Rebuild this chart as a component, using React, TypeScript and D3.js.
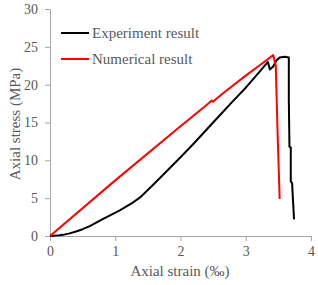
import React, { useEffect, useRef } from "react";
import * as d3 from "d3";

// strain (‰), stress (MPa)
const experimentStrain = [0, 0.1, 0.2, 0.3, 0.4, 0.5, 0.61, 0.8, 1.07, 1.25, 1.38, 1.55, 1.7, 2.0, 2.2, 2.5, 2.8, 3.0, 3.2, 3.34, 3.37, 3.42, 3.47, 3.52, 3.6, 3.66, 3.66, 3.67, 3.69, 3.69, 3.71, 3.74];
const experimentStress = [0, 0.05, 0.15, 0.35, 0.6, 0.9, 1.3, 2.2, 3.4, 4.3, 5.1, 6.5, 7.8, 10.4, 12.2, 15.0, 17.8, 19.6, 21.6, 23.0, 22.0, 22.4, 23.2, 23.6, 23.7, 23.6, 18.0, 11.8, 11.7, 7.2, 7.0, 2.2];

const numericalStrain = [0, 1, 2, 2.4, 2.48, 2.5, 2.55, 2.7, 3.0, 3.25, 3.42, 3.46, 3.49, 3.52];
const numericalStress = [0, 7.35, 14.5, 17.3, 17.9, 17.75, 18.15, 19.2, 21.2, 22.8, 23.9, 22.5, 13.0, 4.9];

const xTicks = [0, 1, 2, 3, 4];
const yTicks = [0, 5, 10, 15, 20, 25, 30];

const legendLabels = ["Experiment result", "Numerical result"];
const seriesColors = ["#000000", "#ff0000"];

export default function App() {
  const ref = useRef<SVGSVGElement>(null);

  useEffect(() => {
    const svg = d3.select(ref.current);
    svg.selectAll("*").remove();

    const x = d3.scaleLinear().domain([0, 4]).range([50, 311]);
    const y = d3.scaleLinear().domain([0, 30]).range([236, 9]);
    const font = "'Liberation Serif', 'Times New Roman', serif";
    const axisColor = "#a6a6a6";
    const textColor = "#595959";

    // x axis
    const xAxis = svg.append("g").attr("transform", `translate(0,${y(0)})`)
      .call(d3.axisBottom(x).tickValues(xTicks).tickFormat(d3.format("d")).tickSize(5).tickSizeOuter(0).tickPadding(5));
    // y axis
    const yAxis = svg.append("g").attr("transform", `translate(${x(0)},0)`)
      .call(d3.axisLeft(y).tickValues(yTicks).tickFormat(d3.format("d")).tickSize(5).tickSizeOuter(0).tickPadding(7));

    [xAxis, yAxis].forEach(a => {
      a.attr("font-family", font).attr("font-size", 14);
      a.select(".domain").attr("stroke", axisColor);
      a.selectAll(".tick line").attr("stroke", axisColor);
      a.selectAll(".tick text").attr("fill", textColor);
    });

    svg.append("text")
      .attr("x", 180).attr("y", 276)
      .attr("text-anchor", "middle")
      .attr("fill", textColor)
      .style("font-family", font).style("font-size", "15px")
      .text("Axial strain (‰)");

    svg.append("text")
      .attr("transform", `translate(20,${124}) rotate(-90)`)
      .attr("text-anchor", "middle")
      .attr("fill", textColor)
      .style("font-family", font).style("font-size", "15px")
      .text("Axial stress (MPa)");

    const line = d3.line<[number, number]>().x(d => x(d[0])).y(d => y(d[1]));

    const experiment = experimentStrain.map((s, i) => [s, experimentStress[i]] as [number, number]);
    const numerical = numericalStrain.map((s, i) => [s, numericalStress[i]] as [number, number]);

    svg.append("path").datum(experiment)
      .attr("d", line).attr("fill", "none")
      .attr("stroke", seriesColors[0]).attr("stroke-width", 2)
      .attr("stroke-linejoin", "round");

    svg.append("path").datum(numerical)
      .attr("d", line).attr("fill", "none")
      .attr("stroke", seriesColors[1]).attr("stroke-width", 2)
      .attr("stroke-linejoin", "round");

    // legend
    const legend = svg.append("g");
    legendLabels.forEach((label, i) => {
      const ly = 33 + i * 26;
      legend.append("line")
        .attr("x1", 61).attr("x2", 89).attr("y1", ly).attr("y2", ly)
        .attr("stroke", seriesColors[i]).attr("stroke-width", 2);
      legend.append("text")
        .attr("x", 92).attr("y", ly + 5)
        .attr("fill", textColor)
        .style("font-family", font).style("font-size", "15px")
        .text(label);
    });
  }, []);

  return (
    <svg ref={ref} width={318} height={285}
      style={{ position: "absolute", left: 0, top: 0, background: "#fff" }} />
  );
}
